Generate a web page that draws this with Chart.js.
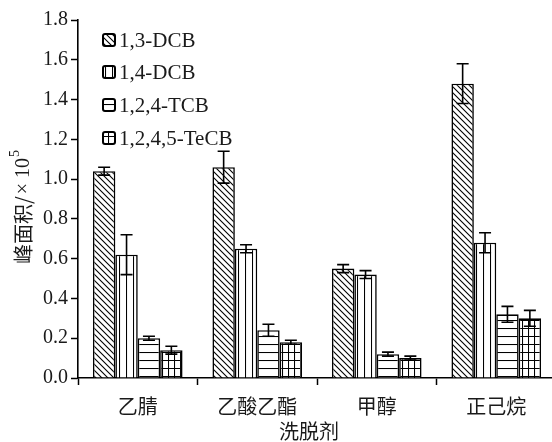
<!DOCTYPE html>
<html>
<head>
<meta charset="utf-8">
<script src="https://cdn.jsdelivr.net/npm/chart.js"></script>
<style>
  html, body { margin: 0; padding: 0; background: #fff; overflow: hidden; }
  #wrap { width: 556px; height: 442px; }
</style>
</head>
<body>
<div id="wrap"><canvas id="myChart" width="556" height="442"></canvas></div>
<script>
// dados do grafico
const solventes = ['乙腈', '乙酸乙酯', '甲醇', '正己烷'];
const nomes = ['1,3-DCB', '1,4-DCB', '1,2,4-TCB', '1,2,4,5-TeCB'];

const dcb13 = [1.04, 1.06, 0.55, 1.48];
const dcb14 = [0.62, 0.65, 0.52, 0.68];
const tcb = [0.20, 0.24, 0.12, 0.32];
const tecb = [0.14, 0.18, 0.10, 0.30];

const err13 = [0.02, 0.08, 0.02, 0.10];
const err14 = [0.10, 0.02, 0.02, 0.05];
const errTcb = [0.01, 0.03, 0.01, 0.04];
const errTecb = [0.02, 0.01, 0.01, 0.04];

const yTicks = [0, 0.2, 0.4, 0.6, 0.8, 1.0, 1.2, 1.4, 1.6, 1.8];

const serif = '"Liberation Serif", "Noto Sans CJK SC", serif';
const cjk = '"Noto Sans CJK SC", sans-serif';

// hachuras
function hachura(tipo) {
  const c = document.createElement('canvas');
  const x = c.getContext('2d');
  let w = 6, h = 6;
  if (tipo === 'v') { w = 7; h = 4; }
  if (tipo === 'h') { w = 4; h = 8; }
  if (tipo === 'g') { w = 6; h = 8; }
  c.width = w; c.height = h;
  x.fillStyle = '#fff';
  x.fillRect(0, 0, w, h);
  x.strokeStyle = '#000';
  x.lineWidth = 1.1;
  x.beginPath();
  if (tipo === 'd') {
    x.moveTo(0, 0); x.lineTo(w, h);
    x.moveTo(-1, h - 1); x.lineTo(1, h + 1);
    x.moveTo(w - 1, -1); x.lineTo(w + 1, 1);
  }
  if (tipo === 'v' || tipo === 'g') {
    x.moveTo(0.5, 0); x.lineTo(0.5, h);
  }
  if (tipo === 'h' || tipo === 'g') {
    x.moveTo(0, 0.5); x.lineTo(w, 0.5);
  }
  x.stroke();
  return document.getElementById('myChart').getContext('2d').createPattern(c, 'repeat');
}

const padroes = [hachura('d'), hachura('v'), hachura('h'), hachura('g')];
const valores = [dcb13, dcb14, tcb, tecb];
const erros = [err13, err14, errTcb, errTecb];

// barras de erro
const barrasErro = {
  id: 'barrasErro',
  afterDatasetsDraw(chart) {
    const ctx = chart.ctx;
    const y = chart.scales.y;
    ctx.save();
    ctx.strokeStyle = '#000';
    ctx.lineWidth = 1.6;
    chart.data.datasets.forEach((ds, i) => {
      const meta = chart.getDatasetMeta(i);
      meta.data.forEach((bar, j) => {
        const v = ds.data[j], e = erros[i][j];
        const yt = y.getPixelForValue(v + e);
        const yb = y.getPixelForValue(v - e);
        ctx.beginPath();
        ctx.moveTo(bar.x, yt); ctx.lineTo(bar.x, yb);
        ctx.moveTo(bar.x - 6, yt); ctx.lineTo(bar.x + 6, yt);
        ctx.moveTo(bar.x - 6, yb); ctx.lineTo(bar.x + 6, yb);
        ctx.stroke();
      });
    });
    ctx.restore();
  }
};

// legenda e titulos
const textos = {
  id: 'textos',
  afterDraw(chart) {
    const ctx = chart.ctx;
    ctx.save();
    ctx.fillStyle = '#1a1a1a';
    // legenda
    const ys = [40, 72, 105, 138];
    nomes.forEach((n, i) => {
      ctx.beginPath();
      ctx.roundRect(103, ys[i] - 6, 12, 12, 2);
      ctx.fillStyle = padroes[i];
      ctx.fill();
      ctx.lineWidth = 2;
      ctx.strokeStyle = '#000';
      ctx.stroke();
      ctx.fillStyle = '#1a1a1a';
      ctx.font = '21px ' + serif;
      ctx.textAlign = 'left';
      ctx.textBaseline = 'middle';
      ctx.fillText(n, 119, ys[i] + 1);
    });
    // titulo x
    ctx.font = '20px ' + cjk;
    ctx.textAlign = 'center';
    ctx.textBaseline = 'middle';
    ctx.fillText('洗脱剂', 309, 431);
    // titulo y
    ctx.translate(23, 264);
    ctx.rotate(-Math.PI / 2);
    ctx.textAlign = 'left';
    ctx.font = '20px ' + cjk;
    const p1 = '峰面积/';
    ctx.fillText(p1, 0, 0);
    let dx = ctx.measureText(p1).width + 2;
    ctx.font = '20px ' + serif;
    const p2 = '× 10';
    ctx.fillText(p2, dx, 1);
    dx += ctx.measureText(p2).width + 1;
    ctx.font = '14px ' + serif;
    ctx.fillText('5', dx, -8);
    ctx.restore();
  }
};

const ctx = document.getElementById('myChart');

new Chart(ctx, {
  type: 'bar',
  data: {
    labels: solventes,
    datasets: nomes.map((n, i) => ({
      label: n,
      data: valores[i],
      backgroundColor: padroes[i],
      borderColor: '#000',
      borderWidth: 1.6,
      borderSkipped: 'bottom'
    }))
  },
  options: {
    responsive: false,
    animation: false,
    layout: { padding: { top: 20, left: 0, right: 0, bottom: 0 } },
    datasets: { bar: { categoryPercentage: 0.75, barPercentage: 1.0 } },
    plugins: {
      legend: { display: false },
      tooltip: { enabled: false }
    },
    scales: {
      x: {
        offset: true,
        grid: { offset: true, drawOnChartArea: false, tickLength: 7, tickColor: '#000', tickWidth: 1.5 },
        border: { color: '#000', width: 1.6 },
        ticks: { color: '#1a1a1a', font: { family: cjk, size: 20 }, padding: 9 },
        afterFit(s) { s.height = 64; }
      },
      y: {
        min: 0,
        max: 1.8,
        afterBuildTicks(s) { s.ticks = yTicks.map(v => ({ value: v })); },
        grid: { drawOnChartArea: false, tickLength: 7, tickColor: '#000', tickWidth: 1.5 },
        border: { color: '#000', width: 1.6 },
        ticks: {
          color: '#1a1a1a',
          font: { family: serif, size: 20 },
          padding: 3,
          callback: v => Number(v).toFixed(1)
        },
        afterFit(s) { s.width = 78; }
      }
    }
  },
  plugins: [barrasErro, textos]
});
</script>
</body>
</html>
